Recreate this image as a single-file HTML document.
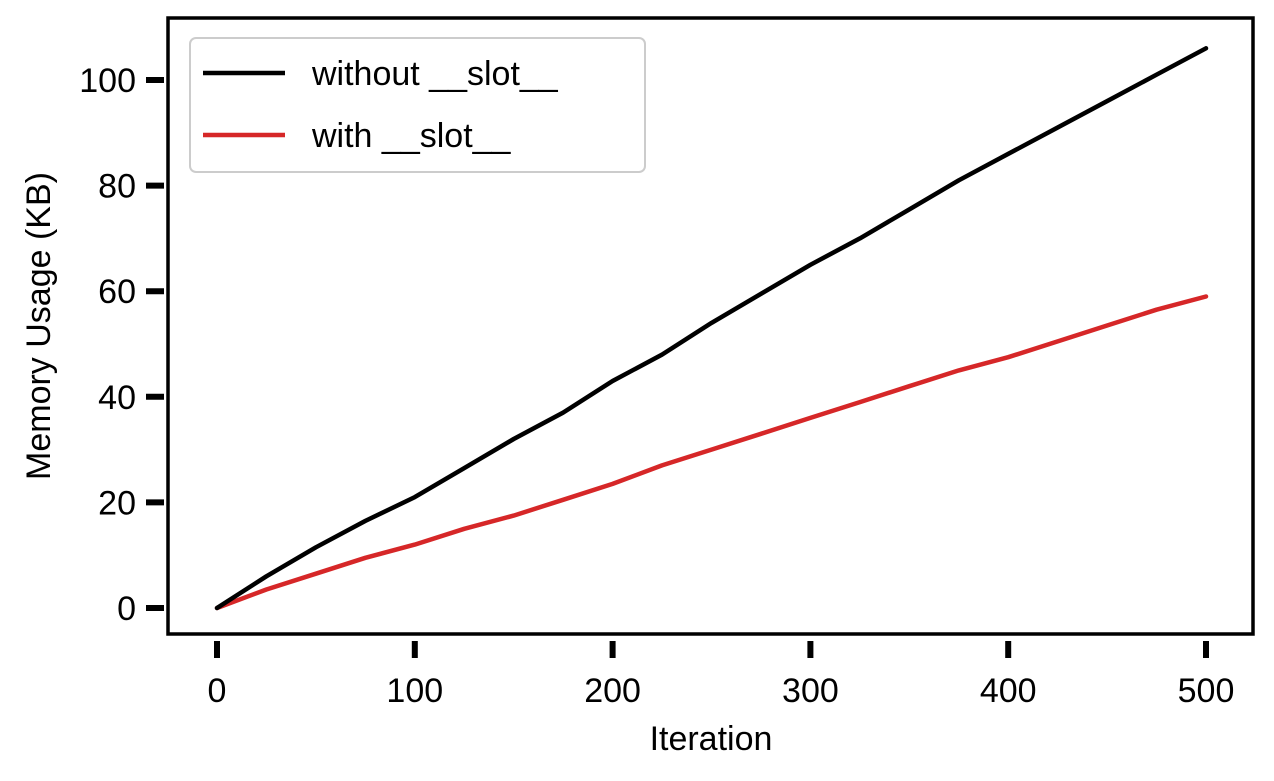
<!DOCTYPE html>
<html><head><meta charset="utf-8"><style>
body{margin:0;background:#fff}
svg{display:block;font-family:"Comic Sans MS","Liberation Sans",sans-serif}
</style></head><body>
<svg id="chart" width="1274" height="781" viewBox="0 0 1274 781">
<rect x="0" y="0" width="1274" height="781" fill="#fff"/>
<g id="plot"></g>
</svg>
<script>
const iterations=[0,25,50,75,100,125,150,175,200,225,250,275,300,325,350,375,400,425,450,475,500];
const withoutSlot=[0,6,11.5,16.5,21,26.5,32,37,43,48,54,59.5,65,70,75.5,81,86,91,96,101,106];
const withSlot=[0,3.5,6.5,9.5,12,15,17.5,20.5,23.5,27,30,33,36,39,42,45,47.5,50.5,53.5,56.5,59];
const xTicks=[0,100,200,300,400,500];
const yTicks=[0,20,40,60,80,100];
const NS="http://www.w3.org/2000/svg";
const g=document.getElementById('plot');
const X=v=>217+v*(1206-217)/500;
const Y=v=>608-v*(608-80)/100;
function el(t,a,txt){const e=document.createElementNS(NS,t);for(const k in a)e.setAttribute(k,a[k]);if(txt!==undefined)e.textContent=txt;g.appendChild(e);return e;}
let f=el('rect',{x:168,y:18,width:1085,height:616,fill:'none',stroke:'#000','stroke-width':3.5});


yTicks.forEach(v=>{
  let t=el('line',{x1:146,x2:164,y1:Y(v),y2:Y(v),stroke:'#000','stroke-width':6});
  
  
  let l=el('text',{x:136,y:Y(v)+12,'text-anchor':'end','font-size':34},String(v));
  
  
});
xTicks.forEach(v=>{
  let t=el('line',{x1:X(v),x2:X(v),y1:641,y2:658,stroke:'#000','stroke-width':6});
  
  
  let l=el('text',{x:X(v),y:702,'text-anchor':'middle','font-size':34},String(v));
  
  
});
let xt=el('text',{x:711,y:750,'text-anchor':'middle','font-size':34},'Iteration');


let yt=el('text',{x:0,y:0,'text-anchor':'middle','font-size':34,transform:'translate(50,326) rotate(-90)'},'Memory Usage (KB)');


function series(vals,color,name){
  const d=vals.map((v,i)=>(i?'L':'M')+X(iterations[i]).toFixed(1)+','+Y(v).toFixed(1)).join(' ');
  let p=el('path',{d:d,fill:'none',stroke:color,'stroke-width':4.5,'stroke-linejoin':'round','stroke-linecap':'round'});
  
  
}
series(withSlot,'#d62728','with-slot-line');
series(withoutSlot,'#000','without-slot-line');
let lb=el('rect',{x:190,y:38,width:455,height:134,rx:6,fill:'#fff',stroke:'#ccc','stroke-width':2});


[['without __slot__','#000',73],['with __slot__','#d62728',135]].forEach(([txt,c,y])=>{
  let ln=el('line',{x1:203,x2:285,y1:y,y2:y,stroke:c,'stroke-width':4.5});
  
  
  let t=el('text',{x:312,y:y+12,'font-size':34},txt);
  
  
});
</script>
</body></html>
